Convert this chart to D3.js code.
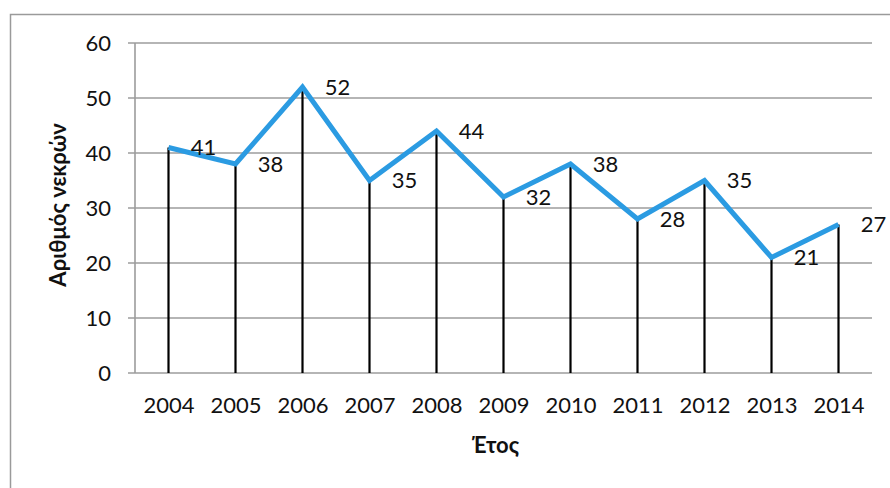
<!DOCTYPE html>
<html>
<head>
<meta charset="utf-8">
<script src="https://cdn.jsdelivr.net/npm/d3@7"></script>
<style>
  html, body { margin: 0; padding: 0; background: #fff; }
  svg { display: block; }
  text { font-family: Lato, "Open Sans", "Noto Sans", sans-serif; fill: #111; }
</style>
</head>
<body>
<svg id="chart" width="890" height="488"></svg>
<script>
// Road deaths per year
const years = ["2004", "2005", "2006", "2007", "2008", "2009", "2010", "2011", "2012", "2013", "2014"];
const deaths = [41, 38, 52, 35, 44, 32, 38, 28, 35, 21, 27];
const yTicks = [0, 10, 20, 30, 40, 50, 60];
const xTitle = "Έτος";
const yTitle = "Αριθμός νεκρών";

const svg = d3.select("#chart");
const plot = { left: 135, right: 872, top: 43, bottom: 373 };
const fontSize = 22;

// Outer chart frame
svg.append("path")
  .attr("d", `M10.5,488 L10.5,14.5 L890,14.5`)
  .attr("fill", "none")
  .attr("stroke", "#9a9a9a")
  .attr("stroke-width", 1.5);

const x = d3.scalePoint().domain(years).range([plot.left, plot.right]).padding(0.5);
const y = d3.scaleLinear().domain([0, 60]).range([plot.bottom, plot.top]);

// Horizontal gridlines with a short tick stub on the left
svg.append("g")
  .selectAll("line")
  .data(yTicks)
  .join("line")
  .attr("x1", plot.left - 7)
  .attr("x2", plot.right)
  .attr("y1", d => y(d))
  .attr("y2", d => y(d))
  .attr("stroke", "#9c9c9c")
  .attr("stroke-width", 1.6);

// Vertical axis line
svg.append("line")
  .attr("x1", plot.left).attr("x2", plot.left)
  .attr("y1", y(60)).attr("y2", y(0))
  .attr("stroke", "#9c9c9c").attr("stroke-width", 1.6);

// Y axis tick labels
const yAxis = d3.axisLeft(y).tickValues(yTicks).tickSize(0).tickPadding(24);
svg.append("g")
  .attr("transform", `translate(${plot.left},0)`)
  .call(yAxis)
  .call(g => g.select(".domain").remove())
  .call(g => g.selectAll("text")
    .attr("font-size", fontSize)
    .attr("fill", "#111")
    .attr("font-family", "Lato, 'Open Sans', sans-serif"));

// X axis tick labels
const xAxis = d3.axisBottom(x).tickSize(0).tickPadding(24);
svg.append("g")
  .attr("transform", `translate(0,${plot.bottom})`)
  .call(xAxis)
  .call(g => g.select(".domain").remove())
  .call(g => g.selectAll("text")
    .attr("font-size", fontSize)
    .attr("fill", "#111")
    .attr("font-family", "Lato, 'Open Sans', sans-serif"));

// Drop lines from each point to the baseline
svg.append("g")
  .selectAll("line")
  .data(years)
  .join("line")
  .attr("x1", d => x(d))
  .attr("x2", d => x(d))
  .attr("y1", (d, i) => y(deaths[i]))
  .attr("y2", y(0))
  .attr("stroke", "#000")
  .attr("stroke-width", 2.2);

// Series line
const line = d3.line()
  .x((d, i) => x(years[i]))
  .y(d => y(d));
svg.append("path")
  .datum(deaths)
  .attr("d", line)
  .attr("fill", "none")
  .attr("stroke", "#2b9be2")
  .attr("stroke-width", 5)
  .attr("stroke-linejoin", "miter");

// Value labels to the right of each point
svg.append("g")
  .selectAll("text")
  .data(deaths)
  .join("text")
  .attr("x", (d, i) => x(years[i]) + 35)
  .attr("y", d => y(d))
  .attr("dy", "0.35em")
  .attr("text-anchor", "middle")
  .attr("font-size", fontSize)
  .text(d => d);

// Axis titles
svg.append("text")
  .attr("x", x("2009") - 8)
  .attr("y", 453)
  .attr("text-anchor", "middle")
  .attr("font-size", fontSize)
  .attr("font-weight", "bold")
  .text(xTitle);

svg.append("text")
  .attr("transform", `translate(66,${(plot.top + plot.bottom) / 2 - 3}) rotate(-90)`)
  .attr("text-anchor", "middle")
  .attr("font-size", fontSize)
  .attr("font-weight", "bold")
  .text(yTitle);
</script>
</body>
</html>
